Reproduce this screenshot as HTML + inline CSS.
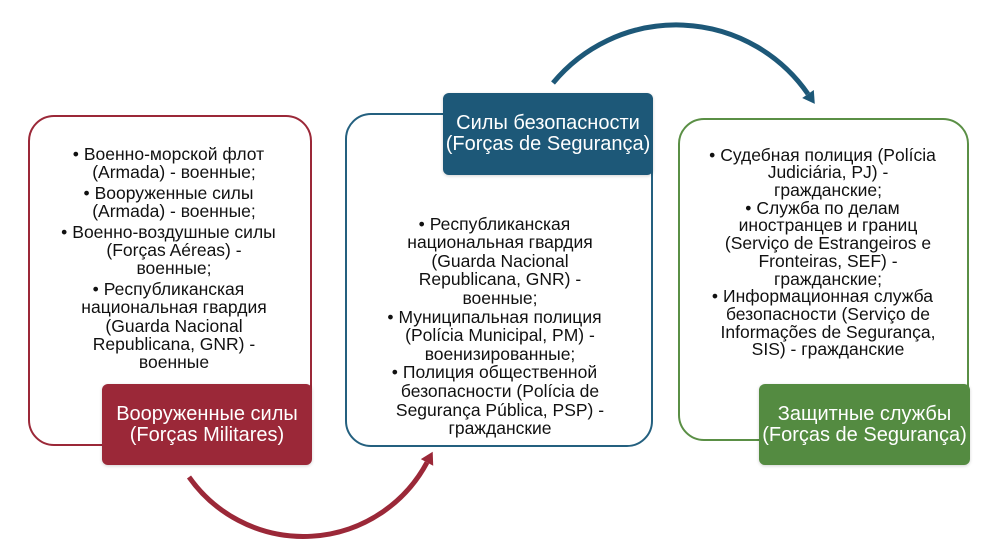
<!DOCTYPE html>
<html><head><meta charset="utf-8">
<style>
html,body{margin:0;padding:0;background:#fff;}
body{width:1000px;height:556px;position:relative;overflow:hidden;font-family:"Liberation Sans",Arial,sans-serif;}
.ob{position:absolute;box-sizing:border-box;border:2px solid;border-radius:26px;background:#fff;}
.lb{position:absolute;box-sizing:border-box;border-radius:6px;color:#fff;font-size:20px;line-height:21px;display:flex;align-items:center;justify-content:center;text-align:center;white-space:nowrap;box-shadow:0 1px 3px rgba(0,0,0,0.18);}
.tx{position:absolute;text-align:center;font-size:17.5px;color:#111;white-space:nowrap;}
.b{margin-left:-11.1px;margin-right:5px;}
</style></head><body>
<svg width="1000" height="556" style="position:absolute;left:0;top:0">
  <path d="M189,477 A140,140 0 0 0 427,462.4" fill="none" stroke="#9b2838" stroke-width="5"/>
  <polygon points="432.7,451.8 433.2,465.7 420.8,459.1" fill="#9b2838"/>
  <path d="M553,83 A160,160 0 0 1 808,94" fill="none" stroke="#1d5878" stroke-width="5"/>
  <polygon points="814.8,103.9 813.8,90.0 802.2,98.0" fill="#1d5878"/>
</svg>

<div class="ob" style="left:28px;top:115px;width:284px;height:331px;border-color:#9b2838;"></div>
<div class="ob" style="left:345px;top:113px;width:308px;height:334px;border-color:#24607f;"></div>
<div class="ob" style="left:678px;top:118px;width:291px;height:323px;border-color:#5a8f45;"></div>

<div class="tx" style="left:44px;top:145px;width:260px;line-height:18.4px;">
  <div><span class="b">•</span>Военно-морской флот<br>(Armada) - военные;</div>
  <div style="margin-top:2px"><span class="b">•</span>Вооруженные силы<br>(Armada) - военные;</div>
  <div style="margin-top:2px"><span class="b">•</span>Военно-воздушные силы<br>(Forças Aéreas) -<br>военные;</div>
  <div style="margin-top:2px"><span class="b">•</span>Республиканская<br>национальная гвардия<br>(Guarda Nacional<br>Republicana, GNR) -<br>военные</div>
</div>

<div class="tx" style="left:370px;top:214.6px;width:260px;line-height:18.6px;">
  <div><span class="b">•</span>Республиканская<br>национальная гвардия<br>(Guarda Nacional<br>Republicana, GNR) -<br>военные;</div>
  <div><span class="b">•</span>Муниципальная полиция<br>(Polícia Municipal, PM) -<br>военизированные;</div>
  <div><span class="b">•</span>Полиция общественной<br>безопасности (Polícia de<br>Segurança Pública, PSP) -<br>гражданские</div>
</div>

<div class="tx" style="left:698px;top:146.6px;width:260px;line-height:17.7px;">
  <div><span class="b">•</span>Судебная полиция (Polícia<br>Judiciária, PJ) -<br>гражданские;</div>
  <div><span class="b">•</span>Служба по делам<br>иностранцев и границ<br>(Serviço de Estrangeiros e<br>Fronteiras, SEF) -<br>гражданские;</div>
  <div><span class="b">•</span>Информационная служба<br>безопасности (Serviço de<br>Informações de Segurança,<br>SIS) - гражданские</div>
</div>

<div class="lb" style="left:102px;top:384px;width:210px;height:81px;background:#9b2838;">Вооруженные силы<br>(Forças Militares)</div>
<div class="lb" style="left:443px;top:93px;width:210px;height:82px;background:#1d5878;">Силы безопасности<br>(Forças de Segurança)</div>
<div class="lb" style="left:759px;top:384px;width:211px;height:81px;background:#548b41;">Защитные службы<br>(Forças de Segurança)</div>
</body></html>
